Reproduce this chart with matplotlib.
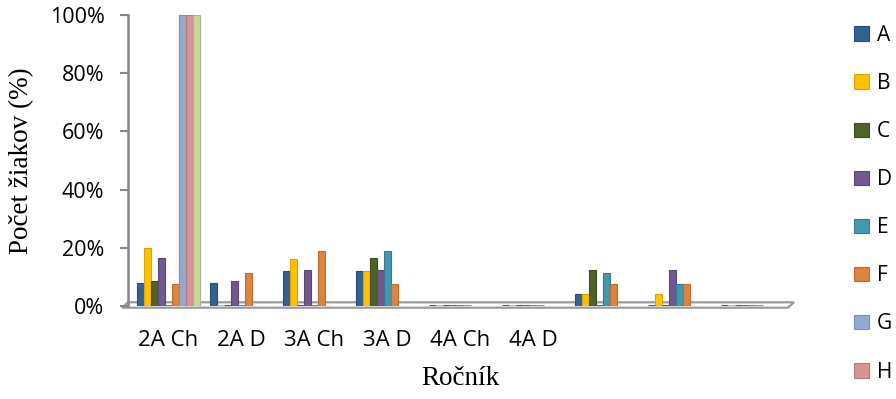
import numpy as np
import matplotlib
matplotlib.use("Agg")
import matplotlib.pyplot as plt
from matplotlib.patches import Polygon

# categories (the last three have no label in the source chart)
categories = ["2A Ch", "2A D", "3A Ch", "3A D", "4A Ch", "4A D", "", "", ""]
series_names = ["A", "B", "C", "D", "E", "F", "G", "H", "I"]

# percentage of pupils per series, one value per category (nan = not shown)
nan = np.nan
val_a = [8, 8, 12, 12, 0, 0, 4, 0, 0]
val_b = [20, 0, 16, 12, 0, 0, 4, 4, 0]
val_c = [8.5, 0, 0, 16.5, 0, 0, 12.5, 0, 0]
val_d = [16.5, 8.5, 12.5, 12.5, 0, 0, 0, 12.5, 0]
val_e = [0, 0, 0, 19, 0, 0, 11.5, 7.5, 0]
val_f = [7.5, 11.5, 19, 7.5, 0, 0, 7.5, 7.5, 0]
val_g = [100, nan, nan, nan, nan, nan, nan, nan, nan]
val_h = [100, nan, nan, nan, nan, nan, nan, nan, nan]
val_i = [100, nan, nan, nan, nan, nan, nan, nan, nan]

SERIES = [val_a, val_b, val_c, val_d, val_e, val_f, val_g, val_h, val_i]
COLORS = ["#376092", "#ffc000", "#4f6228", "#71588f", "#4198af",
          "#dd843f", "#95a9d0", "#d59594", "#c3d69b"]
EDGES = ["#2a4d78", "#d9a300", "#3e4e1f", "#5c4676", "#337c90",
         "#bb6c30", "#7b90b8", "#b97978", "#a3b87c"]

W, H = 896, 399
SANS = "Open Sans"
SERIF = "Liberation Serif"

fig = plt.figure(figsize=(W / 100, H / 100), dpi=100)
# axes box in pixels: left 132, right 789, top 15, bottom 306
ax = fig.add_axes([132 / W, 1 - 306 / H, (789 - 132) / W, (306 - 15) / H])
aw = 789 - 132
ah = 306 - 15

# spine position first: moving a spine resets the tick settings
for side in ("top", "right", "bottom"):
    ax.spines[side].set_visible(False)
ax.spines["left"].set_position(("axes", -0.006))
ax.spines["left"].set_color("#868686")
ax.spines["left"].set_linewidth(1.8)

x = np.arange(len(categories))
slot = 0.096
bar_w = 0.09
for i, (name, vals) in enumerate(zip(series_names, SERIES)):
    vals = np.array(vals, dtype=float)
    ok = ~np.isnan(vals)
    label = name if name != "I" else "_nolegend_"
    ax.bar(x[ok] + (i - 4) * slot, vals[ok], width=bar_w, color=COLORS[i],
           edgecolor=EDGES[i], linewidth=0.8, label=label, zorder=3)
    zero = ok & (np.nan_to_num(vals) == 0)
    # flat "disc" shown for empty bars in the 3D original
    ax.hlines(np.zeros(zero.sum()), x[zero] + (i - 4) * slot - bar_w / 2,
              x[zero] + (i - 4) * slot + bar_w / 2, colors=COLORS[i],
              linewidth=2.2, zorder=4)

ax.set_xlim(-0.5, len(categories) - 0.5)
ax.set_ylim(0, 100)
ax.set_yticks(np.arange(0, 101, 20))
ax.set_yticklabels([f"{v}%" for v in range(0, 101, 20)])
ax.set_xticks(x)
ax.set_xticklabels(categories)
for lab in ax.get_yticklabels():
    lab.set_fontfamily(SANS)
    lab.set_fontsize(15.5)
for lab in ax.get_xticklabels():
    lab.set_fontfamily(SANS)
    lab.set_fontsize(16)
ax.tick_params(axis="x", length=0, pad=17)
ax.tick_params(axis="y", length=6, width=1.5, color="#868686", pad=11)

# pseudo-3D floor of the chart
floor = Polygon([((122 - 132) / aw, -1.7 / ah), ((788 - 132) / aw, -1.7 / ah),
                 ((794 - 132) / aw, 3.7 / ah), ((128 - 132) / aw, 3.7 / ah)],
                closed=True, transform=ax.transAxes, facecolor="white",
                edgecolor="#9a9a9a", linewidth=1.6, clip_on=False, zorder=1)
ax.add_patch(floor)

ax.set_ylabel("Počet žiakov (%)", fontfamily=SERIF, fontsize=19.5)
ax.yaxis.set_label_coords((34 - 132) / aw, 0.5)
ax.set_xlabel("Ročník", fontfamily=SERIF, fontsize=19.5, labelpad=11)

fig.legend(loc="upper left", bbox_to_anchor=(854 / W, 1 - 25 / H),
           frameon=False, prop={"family": SANS, "size": 15},
           handlelength=0.7, handleheight=0.7, handletextpad=0.4,
           labelspacing=1.3, borderpad=0, borderaxespad=0)

fig.savefig("out.png", dpi=100)
